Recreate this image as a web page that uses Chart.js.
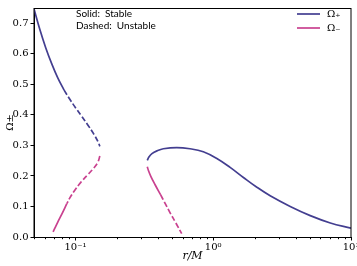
<!DOCTYPE html>
<html>
<head>
<meta charset="utf-8">
<script src="https://cdn.jsdelivr.net/npm/chart.js@4/dist/chart.umd.min.js"></script>
<style>
  html, body { margin: 0; padding: 0; background: #fff; }
  canvas { display: block; }
</style>
</head>
<body>
<canvas id="chart" width="357" height="266"></canvas>
<script>
// Omega_+ / Omega_- against r/M

// Omega_+ , inner branch
const plusSolidA_r = [0.0498, 0.0550, 0.0608, 0.0673, 0.0744, 0.0827];
const plusSolidA_w = [0.750, 0.681, 0.620, 0.567, 0.521, 0.481];
const plusDashA_r = [0.0827, 0.0910, 0.1006, 0.1112, 0.1229, 0.1359, 0.1454, 0.1503];
const plusDashA_w = [0.481, 0.451, 0.422, 0.395, 0.367, 0.337, 0.313, 0.297];

// Omega_- , inner branch
const minusDashA_r = [0.1503, 0.1454, 0.1359, 0.1229, 0.1093, 0.0989, 0.0910, 0.0865];
const minusDashA_w = [0.265, 0.245, 0.226, 0.204, 0.179, 0.153, 0.128, 0.109];
const minusSolidA_r = [0.0865, 0.0796, 0.0744, 0.0707, 0.0688];
const minusSolidA_w = [0.109, 0.075, 0.049, 0.028, 0.017];

// Omega_+ , outer branch
const plusSolidB_r = [0.332, 0.3414, 0.3591, 0.3904, 0.434, 0.543, 0.678, 0.847, 1.062, 1.326, 1.656, 2.073, 2.59, 3.62, 5.06, 7.08, 10];
const plusSolidB_w = [0.251, 0.262, 0.273, 0.282, 0.289, 0.293, 0.289, 0.279, 0.257, 0.228, 0.195, 0.163, 0.135, 0.100, 0.070, 0.046, 0.029];

// Omega_- , outer branch
const minusSolidB_r = [0.332, 0.3385, 0.3530, 0.3776, 0.4154];
const minusSolidB_w = [0.230, 0.218, 0.198, 0.172, 0.138];
const minusDashB_r = [0.4154, 0.4464, 0.4854, 0.5367, 0.5904];
const minusDashB_w = [0.138, 0.111, 0.080, 0.045, 0.011];

const xTicks = [0.05, 0.06, 0.07, 0.08, 0.09, 0.1, 0.2, 0.3, 0.4, 0.5, 0.6, 0.7, 0.8, 0.9, 1, 2, 3, 4, 5, 6, 7, 8, 9, 10];
const xMajor = [0.1, 1, 10];
const xLabels = { 0.1: '10\u207B\u00B9', 1: '10\u2070', 10: '10\u00B9' };
const yTicks = [0, 0.1, 0.2, 0.3, 0.4, 0.5, 0.6, 0.7];

const BLUE = '#433e90';
const PINK = '#c9418f';
const DASH = [5.5, 2.5];

const pts = (rs, ws) => rs.map((r, i) => ({ x: r, y: ws[i] }));

function line(rs, ws, color, dashed) {
  return {
    data: pts(rs, ws),
    showLine: true,
    borderColor: color,
    borderWidth: 1.7,
    borderDash: dashed ? DASH : [],
    pointRadius: 0,
    tension: 0.4,
    fill: false
  };
}

const datasets = [
  line(plusSolidA_r, plusSolidA_w, BLUE, false),
  line(plusDashA_r, plusDashA_w, BLUE, true),
  line(minusDashA_r, minusDashA_w, PINK, true),
  line(minusSolidA_r, minusSolidA_w, PINK, false),
  line(plusSolidB_r, plusSolidB_w, BLUE, false),
  line(minusSolidB_r, minusSolidB_w, PINK, false),
  line(minusDashB_r, minusDashB_w, PINK, true)
];

const serif = 'DejaVu Serif';

// box, minor ticks, note and legend
const extras = {
  id: 'extras',
  afterDraw(chart) {
    const { ctx, chartArea: a, scales } = chart;
    ctx.save();
    ctx.strokeStyle = '#000';
    ctx.lineWidth = 1;
    ctx.strokeRect(a.left, a.top + 0.5, a.right - a.left, a.bottom - a.top);

    xTicks.filter(v => !xMajor.includes(v)).forEach(v => {
      const px = Math.round(scales.x.getPixelForValue(v)) + 0.5;
      ctx.beginPath();
      ctx.moveTo(px, a.bottom);
      ctx.lineTo(px, a.bottom + 2.2);
      ctx.stroke();
    });

    ctx.fillStyle = '#000';
    ctx.font = '10px Lato';
    ctx.textBaseline = 'alphabetic';
    ctx.fillText('Solid:  Stable', a.left + 42, 17);
    ctx.fillText('Dashed:  Unstable', a.left + 42, 29);

    const items = [['\u03A9\u208A', BLUE], ['\u03A9\u208B', PINK]];
    items.forEach(([label, color], i) => {
      const y = 14 + i * 14;
      ctx.strokeStyle = color;
      ctx.lineWidth = 1.7;
      ctx.beginPath();
      ctx.moveTo(a.right - 54, y);
      ctx.lineTo(a.right - 31, y);
      ctx.stroke();
      ctx.fillStyle = '#000';
      ctx.font = '10px ' + serif;
      ctx.textBaseline = 'middle';
      ctx.fillText(label, a.right - 24, y);
    });
    ctx.restore();
  }
};

new Chart(document.getElementById('chart'), {
  type: 'scatter',
  data: { datasets },
  options: {
    responsive: false,
    animation: false,
    layout: { padding: { top: 0, right: 6, left: 0, bottom: 0 } },
    plugins: { legend: { display: false }, tooltip: { enabled: false } },
    scales: {
      x: {
        type: 'logarithmic',
        min: 0.05,
        max: 10,
        afterBuildTicks: s => { s.ticks = xTicks.map(v => ({ value: v })); },
        afterFit: s => { s.height = 29; s.paddingRight = 6; s.paddingLeft = 0; },
        ticks: {
          autoSkip: false,
          maxRotation: 0,
          padding: 1,
          color: '#000',
          font: { family: serif, size: 10 },
          callback: v => xLabels[v] || ''
        },
        grid: {
          drawOnChartArea: false,
          tickLength: 3.5,
          tickColor: c => (c.tick && xMajor.includes(c.tick.value)) ? '#000' : 'rgba(0,0,0,0)'
        },
        border: { color: '#000', width: 1 },
        title: {
          display: true,
          text: 'r/M',
          color: '#000',
          font: { family: serif, size: 11, style: 'italic' },
          padding: { top: 0, bottom: 3 }
        }
      },
      y: {
        min: 0,
        max: 0.75,
        afterBuildTicks: s => { s.ticks = yTicks.map(v => ({ value: v })); },
        afterFit: s => { s.width = 34; },
        ticks: {
          padding: 2,
          color: '#000',
          font: { family: serif, size: 10 },
          callback: v => v.toFixed(1)
        },
        grid: { drawOnChartArea: false, tickLength: 3.5, tickColor: '#000' },
        border: { color: '#000', width: 1 },
        title: {
          display: true,
          text: '\u03A9\u00B1',
          color: '#000',
          font: { family: serif, size: 10 },
          padding: { top: 4, bottom: 0 }
        }
      }
    }
  },
  plugins: [extras]
});
</script>
</body>
</html>
